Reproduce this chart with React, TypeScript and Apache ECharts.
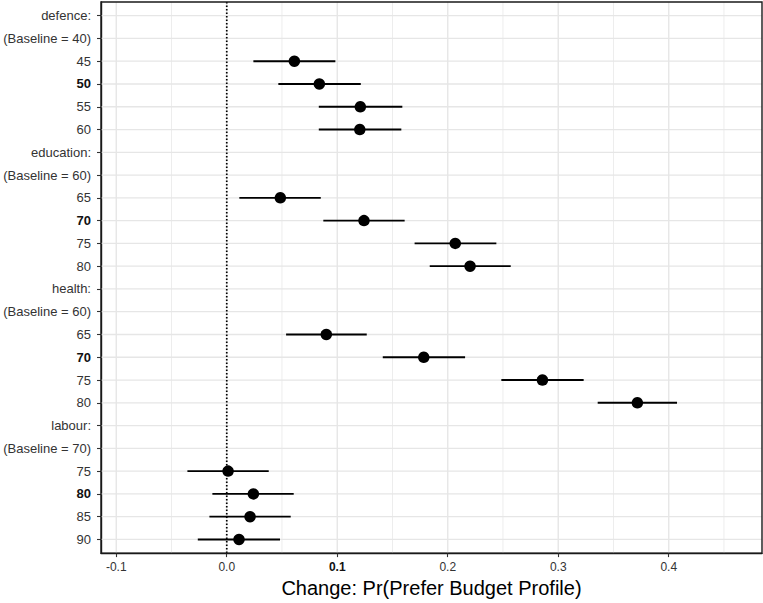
import React, { useEffect, useRef } from "react";
import * as echarts from "echarts";

const rowLabels: string[] = [
  "defence:", "(Baseline = 40)", "45", "50", "55", "60",
  "education:", "(Baseline = 60)", "65", "70", "75", "80",
  "health:", "(Baseline = 60)", "65", "70", "75", "80",
  "labour:", "(Baseline = 70)", "75", "80", "85", "90",
];
const boldRows: number[] = [3, 9, 15, 21];

const estimate: (number | null)[] = [
  null, null, 0.0612, 0.0838, 0.1209, 0.1204,
  null, null, 0.0485, 0.1242, 0.2068, 0.2202,
  null, null, 0.0901, 0.1783, 0.2857, 0.3716,
  null, null, 0.0012, 0.0241, 0.0211, 0.0111,
];
const lower: (number | null)[] = [
  null, null, 0.0241, 0.0467, 0.0833, 0.0833,
  null, null, 0.0114, 0.0874, 0.1700, 0.1837,
  null, null, 0.0537, 0.1412, 0.2485, 0.3357,
  null, null, -0.0356, -0.0130, -0.0157, -0.0262,
];
const upper: (number | null)[] = [
  null, null, 0.0983, 0.1213, 0.1589, 0.1580,
  null, null, 0.0851, 0.1610, 0.2440, 0.2570,
  null, null, 0.1267, 0.2157, 0.3230, 0.4075,
  null, null, 0.0380, 0.0606, 0.0579, 0.0482,
];

const xTicks: number[] = [-0.1, 0.0, 0.1, 0.2, 0.3, 0.4];
const xMinorGrid: number[] = [-0.05, 0.05, 0.15, 0.25, 0.35, 0.45];
const boldXTick = 0.1;
const xTitle = "Change: Pr(Prefer Budget Profile)";

const X_MIN = -0.1138;
const X_MAX = 0.4844;
const Y_MIN = -0.6;
const Y_MAX = rowLabels.length - 1 + 0.6;

const FONT = "'Liberation Sans', Arial, Helvetica, sans-serif";
const LABEL_COLOR = "#333333";

export default function App() {
  const ref = useRef<HTMLDivElement>(null);

  useEffect(() => {
    if (!ref.current) return;
    const chart = echarts.init(ref.current, undefined, { renderer: "svg" });
    const rowIdx = rowLabels.map((_, i) => i);

    const vGrid = [
      ...xTicks.map((v) => [v, 1]),
      ...xMinorGrid.map((v) => [v, 0]),
    ];
    const hGrid = rowIdx.map((i) => [0, i]);

    const bars: number[][] = [];
    const pts: number[][] = [];
    rowIdx.forEach((i) => {
      if (estimate[i] !== null) {
        bars.push([lower[i] as number, upper[i] as number, i]);
        pts.push([estimate[i] as number, i]);
      }
    });

    chart.setOption({
      animation: false,
      textStyle: { fontFamily: FONT },
      grid: {
        left: 101,
        right: 1,
        top: 2,
        bottom: 46,
        show: true,
        borderColor: "#1a1a1a",
        borderWidth: 1.4,
        backgroundColor: "transparent",
        z: 10,
      },
      xAxis: {
        type: "value",
        min: X_MIN,
        max: X_MAX,
        splitLine: { show: false },
        axisLine: { show: true, onZero: false, lineStyle: { color: "#1a1a1a", width: 1.4 } },
        axisTick: {
          show: true,
          customValues: xTicks,
          length: 4,
          lineStyle: { color: "#333333", width: 1.1 },
        },
        axisLabel: {
          customValues: xTicks,
          margin: 8,
          fontSize: 12,
          color: LABEL_COLOR,
          fontFamily: FONT,
          formatter: (v: number) =>
            Math.abs(v - boldXTick) < 1e-9 ? `{b|${v.toFixed(1)}}` : v.toFixed(1),
          rich: { b: { fontWeight: "bold", fontSize: 12, color: "#111111", fontFamily: FONT } },
        },
        name: xTitle,
        nameLocation: "middle",
        nameGap: 24,
        nameTextStyle: { fontSize: 20, color: "#000000", fontFamily: FONT },
      },
      yAxis: {
        type: "value",
        inverse: true,
        min: Y_MIN,
        max: Y_MAX,
        splitLine: { show: false },
        axisLine: { show: true, onZero: false, lineStyle: { color: "#1a1a1a", width: 1.4 } },
        axisTick: {
          show: true,
          customValues: rowIdx,
          length: 4,
          lineStyle: { color: "#333333", width: 1.1 },
        },
        axisLabel: {
          customValues: rowIdx,
          margin: 10,
          fontSize: 13,
          color: LABEL_COLOR,
          fontFamily: FONT,
          formatter: (v: number) => {
            const i = Math.round(v);
            const t = rowLabels[i] ?? "";
            return boldRows.indexOf(i) >= 0 ? `{b|${t}}` : t;
          },
          rich: { b: { fontWeight: "bold", fontSize: 13, color: "#111111", fontFamily: FONT } },
        },
      },
      series: [
        {
          type: "custom",
          name: "vgrid",
          silent: true,
          z: 1,
          data: vGrid,
          encode: { x: 0 },
          renderItem: (_p: any, api: any) => {
            const x = api.value(0);
            const major = api.value(1) === 1;
            const a = api.coord([x, Y_MIN]);
            const b = api.coord([x, Y_MAX]);
            return {
              type: "line",
              shape: { x1: a[0], y1: a[1], x2: b[0], y2: b[1] },
              style: { stroke: major ? "#E6E6E6" : "#EBEBEB", lineWidth: major ? 1.4 : 0.9 },
            };
          },
        },
        {
          type: "custom",
          name: "hgrid",
          silent: true,
          z: 1,
          data: hGrid,
          encode: { y: 1 },
          renderItem: (_p: any, api: any) => {
            const y = api.value(1);
            const a = api.coord([X_MIN, y]);
            const b = api.coord([X_MAX, y]);
            return {
              type: "line",
              shape: { x1: a[0], y1: a[1], x2: b[0], y2: b[1] },
              style: { stroke: "#E6E6E6", lineWidth: 1.3 },
            };
          },
        },
        {
          type: "custom",
          name: "zero",
          silent: true,
          z: 2,
          data: [[0, 0]],
          encode: { x: 0 },
          renderItem: (_p: any, api: any) => {
            const a = api.coord([api.value(0), Y_MIN]);
            const b = api.coord([api.value(0), Y_MAX]);
            return {
              type: "line",
              shape: { x1: a[0], y1: a[1], x2: b[0], y2: b[1] },
              style: { stroke: "#000000", lineWidth: 1.7, lineDash: [1.5, 2.0] },
            };
          },
        },
        {
          type: "custom",
          name: "ci",
          silent: true,
          z: 3,
          data: bars,
          encode: { x: [0, 1], y: 2 },
          renderItem: (_p: any, api: any) => {
            const a = api.coord([api.value(0), api.value(2)]);
            const b = api.coord([api.value(1), api.value(2)]);
            return {
              type: "line",
              shape: { x1: a[0], y1: a[1], x2: b[0], y2: b[1] },
              style: { stroke: "#000000", lineWidth: 1.9 },
            };
          },
        },
        {
          type: "scatter",
          name: "estimate",
          z: 4,
          data: pts,
          symbol: "circle",
          symbolSize: 11.5,
          itemStyle: { color: "#000000", opacity: 1 },
        },
      ],
    });

    return () => chart.dispose();
  }, []);

  return (
    <div
      ref={ref}
      style={{ position: "absolute", left: 0, top: 0, width: 763, height: 603, background: "#ffffff" }}
    />
  );
}
